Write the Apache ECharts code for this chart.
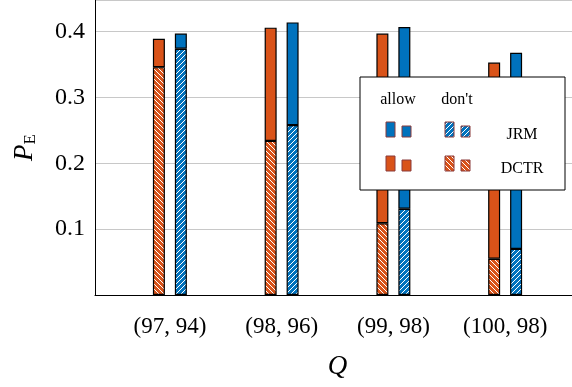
<!DOCTYPE html>
<html>
<head>
<meta charset="utf-8">
<script src="https://cdn.jsdelivr.net/npm/echarts@6/dist/echarts.min.js"></script>
<style>html,body{margin:0;padding:0;background:#fff}#c{width:572px;height:387px}</style>
</head>
<body>
<div id="c"></div>
<script>
var categories = ['(97, 94)', '(98, 96)', '(99, 98)', '(100, 98)'];
var dctrAllow = [0.389, 0.406, 0.397, 0.353];
var dctrDont  = [0.346, 0.234, 0.109, 0.055];
var jrmAllow  = [0.397, 0.414, 0.407, 0.368];
var jrmDont   = [0.374, 0.258, 0.131, 0.070];
var yTicks = [0.1, 0.2, 0.3, 0.4];

var ORANGE = '#D95319', BLUE = '#0072BD';
var FONT = 'Liberation Serif';

function hatch(bg, dir) {
  var s = 5;
  var c = document.createElement('canvas');
  c.width = s; c.height = s;
  var g = c.getContext('2d');
  g.fillStyle = bg; g.fillRect(0, 0, s, s);
  g.strokeStyle = '#ffffff'; g.lineWidth = 1.0;
  for (var k = -1; k <= 1; k++) {
    g.beginPath();
    if (dir === 'nw') { g.moveTo(k * s, 0); g.lineTo(k * s + s, s); }
    else { g.moveTo(k * s, s); g.lineTo(k * s + s, 0); }
    g.stroke();
  }
  return { image: c, repeat: 'repeat' };
}
var orangeHatch = hatch(ORANGE, 'nw');
var blueHatch = hatch(BLUE, 'ne');

function diff(a, b) { return a.map(function (v, i) { return +(v - b[i]).toFixed(4); }); }

var YMAX = 0.448;
var chart = echarts.init(document.getElementById('c'), null, { renderer: 'canvas' });

var border = { borderColor: '#000', borderWidth: 1.2 };
function barSeries(name, stack, data, color) {
  return {
    name: name, type: 'bar', stack: stack, xAxisIndex: 1, yAxisIndex: 1,
    data: data, barWidth: 12, barGap: '83%',
    itemStyle: Object.assign({ color: color }, border),
    emphasis: { disabled: true }, animation: false
  };
}

var lgX = 360, lgY = 77;
var legendBorder = '#8a3a3a';
function icon(x, y, w, h, fill) {
  return { type: 'rect', shape: { x: x, y: y, width: w, height: h },
    style: { fill: fill, stroke: legendBorder, lineWidth: 1 }, z: 101 };
}
function txt(x, y, t, size) {
  return { type: 'text', x: x, y: y, z: 101,
    style: { text: t, font: size + 'px "' + FONT + '"', fill: '#000', align: 'center', verticalAlign: 'middle' } };
}

chart.setOption({
  animation: false,
  grid: [
    { left: 95, right: -10, top: 0, bottom: 92 },
    { left: 114, right: 11, top: 0, bottom: 92 }
  ],
  xAxis: [
    { type: 'value', gridIndex: 0, min: 0, max: 1,
      axisLine: { show: true, lineStyle: { color: '#000', width: 1 } },
      axisTick: { show: false }, axisLabel: { show: false }, splitLine: { show: false } },
    { type: 'category', gridIndex: 1, data: categories,
      axisLine: { show: false }, axisTick: { show: false },
      axisLabel: { fontFamily: FONT, fontSize: 23, color: '#000', margin: 20 },
      name: 'Q', nameLocation: 'middle', nameGap: 58,
      nameTextStyle: { fontFamily: FONT, fontStyle: 'italic', fontSize: 27, color: '#000' } }
  ],
  yAxis: [
    { type: 'value', gridIndex: 0, min: 0, max: YMAX, interval: 0.1,
      axisLine: { show: true, lineStyle: { color: '#000', width: 1 } },
      axisTick: { show: false },
      axisLabel: { fontFamily: FONT, fontSize: 24, color: '#000', margin: 10,
        showMinLabel: false, showMaxLabel: false,
        formatter: function (v) {
          for (var i = 0; i < yTicks.length; i++) if (Math.abs(v - yTicks[i]) < 1e-6) return yTicks[i].toFixed(1);
          return '';
        } },
      splitLine: { show: true, lineStyle: { color: '#c8c8c8', width: 1 } },
      name: '{p|P}{s|E}', nameLocation: 'middle', nameGap: 56, nameRotate: 90,
      nameTextStyle: { rich: {
        p: { fontFamily: FONT, fontStyle: 'italic', fontSize: 27, color: '#000' },
        s: { fontFamily: FONT, fontSize: 17, color: '#000', padding: [12, 0, 0, 0] } } } },
    { type: 'value', gridIndex: 1, min: 0, max: YMAX, interval: 0.1, show: false,
      splitLine: { show: false } }
  ],
  series: [
    barSeries("DCTR don't", 'dctr', dctrDont, orangeHatch),
    barSeries('DCTR allow', 'dctr', diff(dctrAllow, dctrDont), ORANGE),
    barSeries("JRM don't", 'jrm', jrmDont, blueHatch),
    barSeries('JRM allow', 'jrm', diff(jrmAllow, jrmDont), BLUE)
  ],
  graphic: [
    { type: 'rect', shape: { x: lgX, y: lgY, width: 205, height: 113 },
      style: { fill: '#fff', stroke: '#000', lineWidth: 1 }, z: 100 },
    txt(398, 100, 'allow', 16),
    txt(457, 100, "don't", 16),
    icon(386, 122, 9, 15, BLUE), icon(402, 126, 9, 11, BLUE),
    icon(445, 122, 9, 15, blueHatch), icon(461, 126, 9, 11, blueHatch),
    icon(386, 156, 9, 15, ORANGE), icon(402, 160, 9, 11, ORANGE),
    icon(445, 156, 9, 15, orangeHatch), icon(461, 160, 9, 11, orangeHatch),
    txt(522, 135, 'JRM', 16),
    txt(522, 169, 'DCTR', 16)
  ]
});
</script>
</body>
</html>
